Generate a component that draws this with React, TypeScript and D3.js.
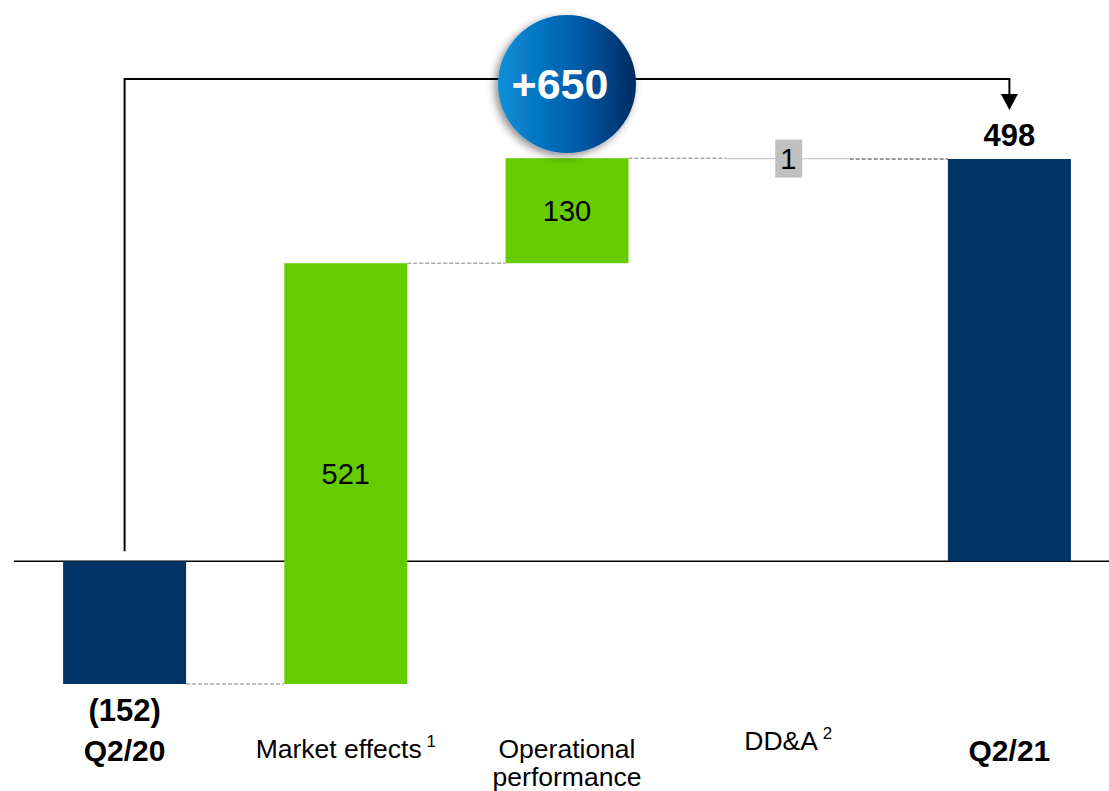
import React from "react";
import * as d3 from "d3";

const categories = ["Q2/20", "Market effects", "Operational performance", "DD&A", "Q2/21"];
const labelLines = [["Q2/20"], ["Market effects"], ["Operational", "performance"], ["DD&A"], ["Q2/21"]];
const footnotes = ["", "1", "", "2", ""];
const values = [-152, 521, 130, -1, 498];
const kinds = ["total", "delta", "delta", "delta", "total"];
const valueLabels = ["(152)", "521", "130", "1", "498"];
const totalChange = "+650";

const W = 1109;
const H = 791;
const NAVY = "#003366";
const GREEN = "#66cc00";
const GREY = "#c0c0c0";
const FONT = "Liberation Sans, Arial, sans-serif";

export default function App() {
  // running waterfall
  let run = 0;
  const bars = categories.map((c, i) => {
    let y0: number, y1: number;
    if (kinds[i] === "total") {
      y0 = 0;
      y1 = values[i];
      run = values[i];
    } else {
      y0 = run;
      y1 = run + values[i];
      run = y1;
    }
    return { c, i, y0, y1, kind: kinds[i] };
  });

  const x = d3
    .scaleBand<string>()
    .domain(categories)
    .range([14, 1120])
    .paddingInner(0.444)
    .paddingOuter(0.222);
  const y = d3.scaleLinear().domain([-152, 498]).range([684, 159]);
  const bw = x.bandwidth();
  const cx = (c: string) => (x(c) as number) + bw / 2;

  const first = categories[0];
  const last = categories[categories.length - 1];
  const bracketY = 79;
  const circleX = (cx(categories[1]) + cx(categories[3])) / 2;

  return (
    <svg
      width={W}
      height={H}
      style={{ position: "absolute", left: 0, top: 0, background: "#fff" }}
      fontFamily={FONT}
    >
      <defs>
        <linearGradient id="bubble" x1="0" x2="1" y1="0" y2="0">
          <stop offset="0%" stopColor="#0b8fd8" />
          <stop offset="55%" stopColor="#005fae" />
          <stop offset="100%" stopColor="#002a62" />
        </linearGradient>
        <filter id="shadow" x="-30%" y="-30%" width="160%" height="160%">
          <feDropShadow dx="-3" dy="3" stdDeviation="4" floodColor="#000" floodOpacity="0.45" />
        </filter>
      </defs>

      {/* baseline */}
      <line x1={14} x2={W} y1={y(0)} y2={y(0)} stroke="#000" strokeWidth={1.5} />

      {/* connectors */}
      {bars.slice(0, -1).map((b, i) => {
        const nb = bars[i + 1];
        const level = b.y1;
        const xa = (x(b.c) as number) + bw;
        const xb = x(nb.c) as number;
        return (
          <line
            key={"con" + i}
            x1={xa}
            x2={xb}
            y1={y(level)}
            y2={y(level)}
            stroke={i === bars.length - 2 ? "#333" : "#808080"}
            strokeWidth={1}
            strokeDasharray="4,2"
          />
        );
      })}

      {/* bars */}
      {bars.map((b) => {
        const top = y(Math.max(b.y0, b.y1));
        const bot = y(Math.min(b.y0, b.y1));
        const small = Math.abs(b.y1 - b.y0) < 5;
        const fill = b.kind === "total" ? NAVY : small ? GREY : GREEN;
        return (
          <rect
            key={"bar" + b.i}
            x={x(b.c) as number}
            y={top}
            width={bw}
            height={Math.max(bot - top, 1)}
            fill={fill}
          />
        );
      })}

      {/* value labels */}
      {bars.map((b) => {
        const label = valueLabels[b.i];
        const small = Math.abs(b.y1 - b.y0) < 5;
        const c = cx(b.c);
        if (b.kind === "total") {
          const yy = b.y1 < 0 ? y(b.y1) + 37 : y(b.y1) - 13;
          return (
            <text
              key={"vl" + b.i}
              x={c}
              y={yy}
              textAnchor="middle"
              fontWeight="bold"
              fontSize={31}
              fill="#000"
            >
              {label}
            </text>
          );
        }
        if (small) {
          const my = y((b.y0 + b.y1) / 2);
          return (
            <g key={"vl" + b.i}>
              <rect x={c - 13} y={my - 19} width={27} height={38} fill={GREY} />
              <text x={c} y={my + 10} textAnchor="middle" fontSize={29} fill="#000">
                {label}
              </text>
            </g>
          );
        }
        const my = y((b.y0 + b.y1) / 2);
        return (
          <text key={"vl" + b.i} x={c} y={my + 10} textAnchor="middle" fontSize={29} fill="#000">
            {label}
          </text>
        );
      })}

      {/* category labels */}
      {bars.map((b) => {
        const c = cx(b.c);
        const bold = b.kind === "total";
        const lines = labelLines[b.i];
        const baseY = bold ? 761 : b.c === "DD&A" ? 750 : 758;
        return (
          <text
            key={"cl" + b.i}
            x={c}
            y={baseY}
            textAnchor="middle"
            fontWeight={bold ? "bold" : "normal"}
            fontSize={bold ? 30 : 26.5}
            fill="#000"
          >
            {lines.map((ln, k) => (
              <tspan key={k} x={c} dy={k === 0 ? 0 : 28}>
                {ln}
                {k === lines.length - 1 && footnotes[b.i] ? (
                  <tspan fontSize={17} dy={-11}>
                    {" " + footnotes[b.i]}
                  </tspan>
                ) : null}
              </tspan>
            ))}
          </text>
        );
      })}

      {/* bracket */}
      <path
        d={`M${cx(first)},${y(0) - 10} V${bracketY} H${cx(last)} V${96}`}
        fill="none"
        stroke="#000"
        strokeWidth={2}
      />
      <path
        d={`M${cx(last) - 8.5},${94} L${cx(last) + 8.5},${94} L${cx(last)},${110} Z`}
        fill="#000"
      />

      {/* bubble */}
      <circle cx={circleX} cy={84} r={69} fill="url(#bubble)" filter="url(#shadow)" />
      <text
        x={circleX - 7}
        y={99}
        textAnchor="middle"
        fontWeight="bold"
        fontSize={43}
        fill="#fff"
      >
        {totalChange}
      </text>
    </svg>
  );
}
